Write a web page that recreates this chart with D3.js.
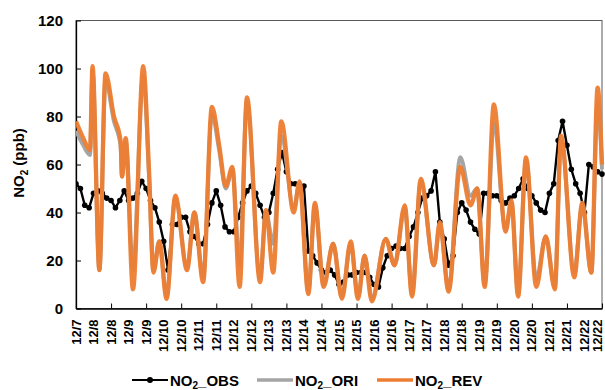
<!DOCTYPE html>
<html><head><meta charset="utf-8">
<script src="https://cdn.jsdelivr.net/npm/d3@7"></script>
<style>
html,body{margin:0;padding:0;background:#fff;}
svg{display:block;font-family:"Liberation Sans",Arial,sans-serif;}
</style></head>
<body>
<svg id="chart" width="605" height="390"></svg>
<script>
// ---- DATA ----
const xTickLabels = ["12/7","12/8","12/8","12/9","12/9","12/10","12/10","12/11","12/11","12/12","12/12","12/13","12/13","12/14","12/14","12/15","12/15","12/16","12/16","12/17","12/17","12/18","12/18","12/19","12/19","12/20","12/20","12/21","12/21","12/22","12/22"];
const yTicks = [0,20,40,60,80,100,120];
const seriesNames = ["OBS","ORI","REV"];

// observed NO2, every 3 hours from 12/7 00:00
const obsStepHours = 3;
const obsValues = [52,50,43,42,48,49,48,46,45,42,45,49,45,46,48,53,50,45,42,36,
  28,16,35,35,38,38,32,30,27,27,35,44,49,43,34,32,32,38,44,49,
  51,48,43,38,40,48,58,65,57,52,52,51,51,24,22,19,16,15,16,14,
  10,11,14,14,15,15,15,13,10,9,17,22,25,26,25,25,30,34,40,46,
  47,49,57,36,29,18,22,40,44,41,36,33,31,48,48,47,47,45,44,46,
  47,50,54,50,47,44,41,40,48,52,70,78,68,58,52,48,40,60,59,57,56];

// model series, read at their turning points (hours since 12/7 00:00)
const modelHours = [0,5,9.6,11.3,16,20.2,26,30.5,31.5,34,39,46,50,53,57,62,68,76,81,87,93,98,102.5,107,112,117,126,130,135,140.5,149,153,159,163.5,169.5,176,182,188,193,197.5,202.5,212,218,225,230,236,245,249,255,263,270,274.6,279.7,286,294,298,302.6,308,315,321.5,327.7,332,341,346.5,352.7,357,360];
const revValues = [78,71,66,101,16,98,80,70,55,71,8,101,57,15,28,4,47,16,40,11,84,68,51,59,9,88,11,41,15,78,40,53,6,44,9,27,4,28,4,22,3,29,18,43,5,54,18,36,7,59,43,50,9,85,32,45,5,63,9,30,8,72,13,44,15,92,60];
const oriValues = [74,68,64,99,16,95,78,68,55,70,16,97,55,16,28,5,46,17,40,13,81,66,50,58,18,86,13,40,27,72,42,52,7,43,10,27,5,27,5,22,4,29,18,42,6,53,18,35,8,63,47,50,10,77,33,44,6,62,12,30,9,70,15,43,15,86,58];

// ---- CHART ----
const svg = d3.select("#chart");
const L = 76, R = 602, T = 20.5, B = 308.5;
const totalHours = (xTickLabels.length - 1) * 12;
const x = d3.scaleLinear().domain([0, totalHours]).range([L, R]);
const y = d3.scaleLinear().domain([0, 120]).range([B, T]);

const colors = {OBS:"#000000", ORI:"#A5A5A5", REV:"#ED7D31"};

// frame
svg.append("rect").attr("x",L).attr("y",T).attr("width",R-L).attr("height",B-T)
  .attr("fill","none").attr("stroke","#595959").attr("stroke-width",1);

// y axis
const yAxis = svg.append("g").attr("transform",`translate(${L},0)`)
  .call(d3.axisLeft(y).tickValues(yTicks).tickSizeInner(-5).tickSizeOuter(0).tickPadding(13));
yAxis.select(".domain").attr("stroke","#000").attr("stroke-width",1.3);
yAxis.selectAll(".tick line").attr("stroke","#000");
yAxis.selectAll(".tick text").attr("font-size",15).attr("font-weight","bold")
  .attr("font-family","'Liberation Sans',Arial,sans-serif").attr("fill","#000");

// x axis (ticks each day)
const dayTicks = d3.range(0, totalHours + 1, 24);
const xAxis = svg.append("g").attr("transform",`translate(0,${B})`)
  .call(d3.axisBottom(x).tickValues(dayTicks).tickSizeInner(-5).tickSizeOuter(0).tickFormat(""));
xAxis.select(".domain").attr("stroke","#000").attr("stroke-width",1.3);
xAxis.selectAll(".tick line").attr("stroke","#000");

// x labels every 12 h, rotated
svg.append("g").selectAll("text").data(xTickLabels).join("text")
  .attr("transform",(d,i)=>`translate(${Math.min(x(i*12)+4.5, 601.5)},${B+11}) rotate(-90)`)
  .attr("text-anchor","end")
  .attr("font-size",13).attr("font-weight","bold").attr("fill","#000")
  .text(d=>d);

// y label
const yl = svg.append("text").attr("transform",`translate(24,163) rotate(-90)`)
  .attr("text-anchor","middle").attr("font-size",15).attr("font-weight","bold").attr("fill","#000");
yl.append("tspan").text("NO");
yl.append("tspan").text("2").attr("font-size",10).attr("dy",4);
yl.append("tspan").text(" (ppb)").attr("dy",-4);

// series
const obsData = obsValues.map((v,i)=>({h:i*obsStepHours, v}));
const oriData = modelHours.map((h,i)=>({h, v:oriValues[i]}));
const revData = modelHours.map((h,i)=>({h, v:revValues[i]}));

svg.append("clipPath").attr("id","pc").append("rect")
  .attr("x",L).attr("y",T-5).attr("width",R-L+3).attr("height",B-T+5);

const g = svg.append("g").attr("clip-path","url(#pc)");
const lineLin = d3.line().x(d=>x(d.h)).y(d=>y(d.v));
const lineSmooth = d3.line().x(d=>x(d.h)).y(d=>y(d.v)).curve(d3.curveMonotoneX);

g.append("path").datum(obsData).attr("d",lineLin).attr("fill","none")
  .attr("stroke",colors.OBS).attr("stroke-width",2.4).attr("stroke-linejoin","round");
g.append("g").selectAll("circle").data(obsData).join("circle")
  .attr("cx",d=>x(d.h)).attr("cy",d=>y(d.v)).attr("r",2.8).attr("fill",colors.OBS);

g.append("path").datum(oriData).attr("d",lineSmooth).attr("fill","none")
  .attr("stroke",colors.ORI).attr("stroke-width",4).attr("stroke-linejoin","round");
g.append("path").datum(revData).attr("d",lineSmooth).attr("fill","none")
  .attr("stroke",colors.REV).attr("stroke-width",4.3).attr("stroke-linejoin","round").attr("opacity",0.95);

// legend
const legendX = [132, 257, 377];
const lg = svg.append("g");
seriesNames.forEach((name,i)=>{
  const x0 = legendX[i], yy = 380;
  lg.append("line").attr("x1",x0).attr("x2",x0+36).attr("y1",yy).attr("y2",yy)
    .attr("stroke",colors[name]).attr("stroke-width", name==="OBS"?2.2:3.6);
  if(name==="OBS") lg.append("circle").attr("cx",x0+18).attr("cy",yy).attr("r",3).attr("fill","#000");
  const t = lg.append("text").attr("x",x0+38).attr("y",yy+5.5)
    .attr("font-size",15).attr("font-weight","bold").attr("fill","#000");
  t.append("tspan").text("NO");
  t.append("tspan").text("2").attr("font-size",10).attr("dy",3);
  t.append("tspan").text("_"+name).attr("dy",-3);
});
</script>
</body></html>
